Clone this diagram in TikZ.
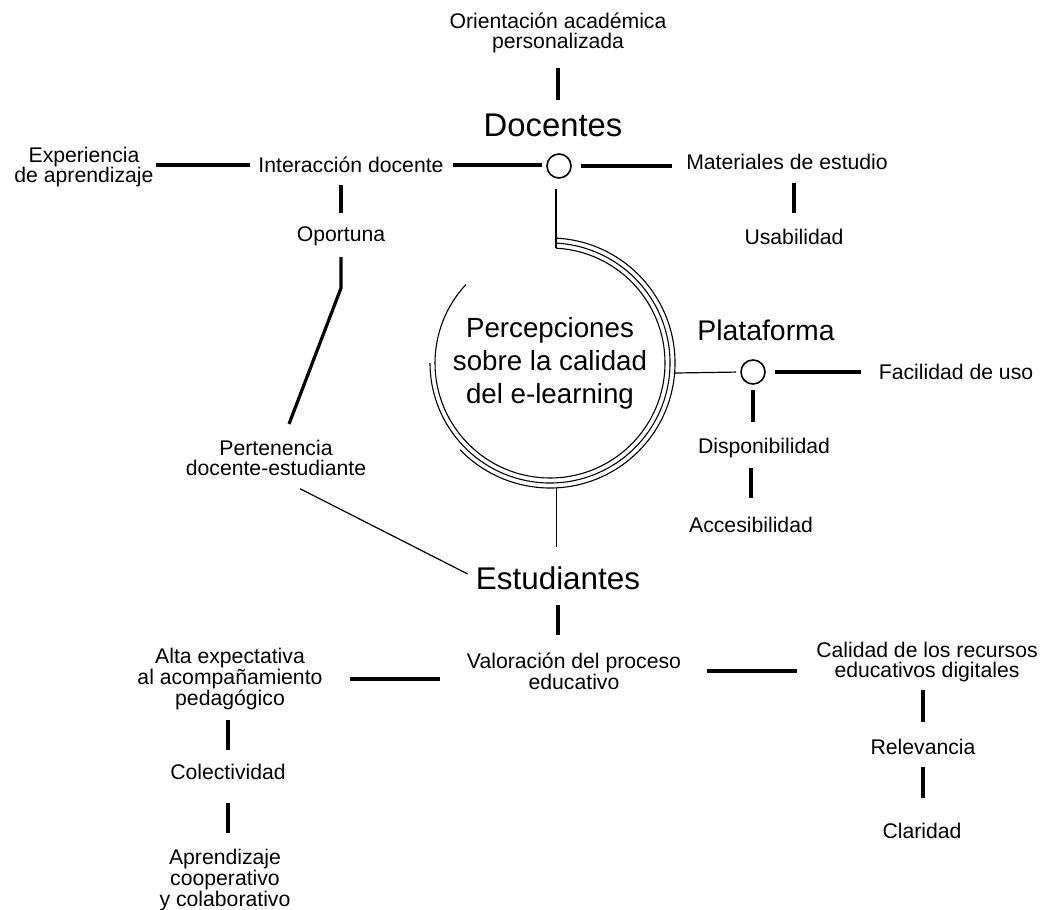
\documentclass[tikz,border=0pt]{standalone}
\usepackage{fontspec}
\setmainfont{Liberation Sans}
\usetikzlibrary{calc}

\begin{document}
\begin{tikzpicture}[x=0.5pt, y=0.5pt,
    txt/.style={align=center, inner sep=0pt, font=\fontsize{10.6}{10.3}\selectfont},
    bar/.style={line width=1.6pt},
    link/.style={line width=0.6pt},
    ring/.style={line width=0.55pt},
    hub/.style={circle, draw, line width=0.8pt, minimum size=12pt, inner sep=0pt}]
    \useasboundingbox (0,0) rectangle (1047,-909);

    % centre
    \node[txt, font=\fontsize{13.85}{16.5}\selectfont] (perc) at (550,-363) {Percepciones\\sobre la calidad\\del e-learning};
    \foreach \rad/\e in {57.5/-223, 60/-180, 62.5/-136}
        \draw[ring] ($(perc.center)+(87:\rad pt)$) arc[start angle=87, end angle=\e, radius=\rad pt];
    \coordinate (rtop) at ($(perc.center)+(87:57.5pt)$);
    \coordinate (rbot) at ($(perc.center)+(-87:62.5pt)$);
    \coordinate (rright) at ($(perc.center)+(-4.6:62.5pt)$);

    % docentes
    \node[txt] (orient) at (558,-33) {Orientación académica\\personalizada};
    \node[txt, font=\fontsize{16.4}{18}\selectfont] (doc) at (553,-125) {Docentes};
    \node[hub] (dhub) at (559,-166) {};
    \node[txt] (exp) at (84,-167) {Experiencia\\de aprendizaje};
    \node[txt] (inter) at (351,-165) {Interacción docente};
    \node[txt] (mat) at (787,-162) {Materiales de estudio};
    \node[txt] (usab) at (794,-237) {Usabilidad};
    \node[txt] (oport) at (341,-236) {Oportuna};
    \node[txt] (pert) at (276,-458) {Pertenencia\\docente-estudiante};

    % plataforma
    \node[txt, font=\fontsize{14.2}{16}\selectfont] (plat) at (766,-330) {Plataforma};
    \node[hub] (phub) at (753,-372) {};
    \node[txt] (facil) at (956,-372) {Facilidad de uso};
    \node[txt] (disp) at (764,-448) {Disponibilidad};
    \node[txt] (acces) at (751,-525) {Accesibilidad};

    % estudiantes
    \node[txt, font=\fontsize{15.7}{18}\selectfont] (estud) at (558,-578) {Estudiantes};
    \node[txt] (valor) at (574,-671) {Valoración del proceso\\educativo};
    \node[txt] (alta) at (230,-679) {Alta expectativa\\al acompañamiento\\pedagógico};
    \node[txt] (colec) at (228,-772) {Colectividad};
    \node[txt] (aprend) at (225,-880) {Aprendizaje\\cooperativo\\y colaborativo};
    \node[txt] (calid) at (927,-662) {Calidad de los recursos\\educativos digitales};
    \node[txt] (relev) at (923,-747) {Relevancia};
    \node[txt] (clar) at (922,-831) {Claridad};

    % links to the centre
    \draw[link, shorten <=5pt] (rtop |- dhub.south) -- (rtop);
    \draw[link, shorten >=15.5pt] (rbot) -- (rbot |- estud.center);
    \draw[link, shorten >=2pt] (rright) -- (phub.west);
    \draw[link, shorten <=13.5pt, shorten >=4.5pt] (pert.south) -- (estud.west);

    % bars
    \draw[bar, shorten <=17.5pt, shorten >=12.5pt] (orient.center) -- (orient.center |- doc.center);
    \draw[bar, shorten <=36pt, shorten >=50.5pt] (exp.center |- inter.center) -- (inter.center);
    \draw[bar, shorten <=51pt, shorten >=8.5pt] (inter.center) -- (inter.center -| dhub.center);
    \draw[bar, shorten <=11pt, shorten >=57.5pt] (dhub.center) -- (dhub.center -| mat.center);
    \draw[bar, shorten <=10.5pt, shorten >=12pt] (usab.center |- mat.center) -- (usab.center);
    \draw[bar, shorten <=10pt, shorten >=11.5pt] (oport.center |- inter.center) -- (oport.center);
    \draw[bar, shorten <=10.5pt, shorten >=18.2pt] (oport.center) -- ++(0,-52) -- (pert.center);
    \draw[bar, shorten <=11pt, shorten >=47.5pt] (phub.center) -- (phub.center -| facil.center);
    \draw[bar, shorten <=9pt, shorten >=13pt] (phub.center) -- (phub.center |- disp.center);
    \draw[bar, shorten <=10pt, shorten >=13.5pt] (acces.center |- disp.center) -- (acces.center);
    \draw[bar, shorten <=13.5pt, shorten >=18pt] (estud.center) -- (estud.center |- valor.center);
    \draw[bar, shorten <=67pt, shorten >=60pt] (alta.center -| valor.center) -- (alta.center);
    \draw[bar, shorten <=66.5pt, shorten >=65pt] (valor.center) -- (valor.center -| calid.center);
    \draw[bar, shorten <=20.5pt, shorten >=11pt] (colec.center |- alta.center) -- (colec.center);
    \draw[bar, shorten <=15.5pt, shorten >=23.5pt] (colec.center) -- (colec.center |- aprend.center);
    \draw[bar, shorten <=14pt, shorten >=12.5pt] (relev.center |- calid.center) -- (relev.center);
    \draw[bar, shorten <=10pt, shorten >=16.5pt] (relev.center) -- (relev.center |- clar.center);
\end{tikzpicture}
\end{document}
